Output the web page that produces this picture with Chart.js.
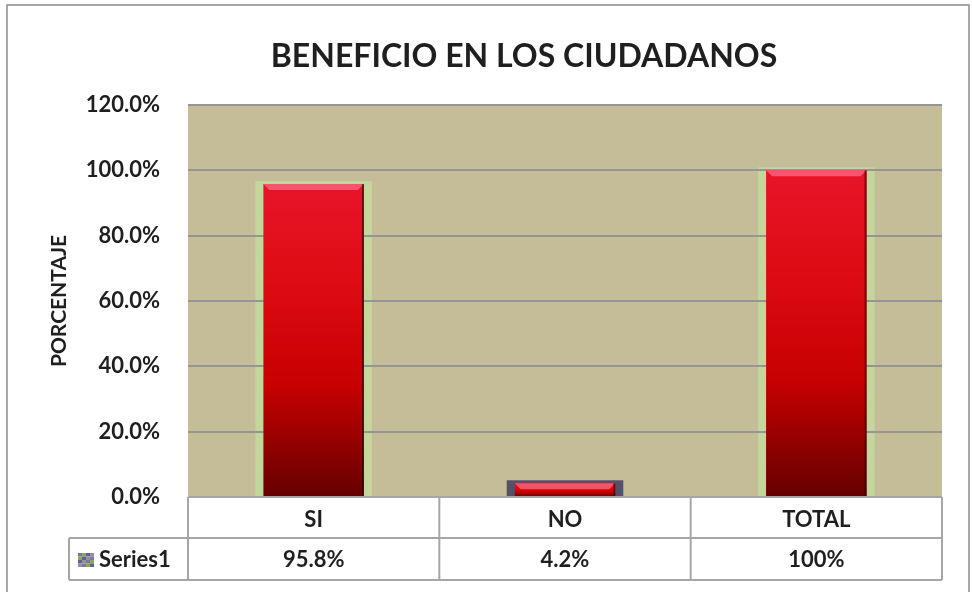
<!DOCTYPE html>
<html lang="es">
<head>
<meta charset="UTF-8">
<title>Beneficio en los ciudadanos</title>
<style>
  body { margin: 0; background: #fff; }
  #wrap { width: 972px; height: 592px; }
</style>
</head>
<body>
<div id="wrap"><canvas id="chart" width="972" height="592"></canvas></div>
<script src="https://cdn.jsdelivr.net/npm/chart.js@4"></script>
<script>
// datos
const categories = ['SI', 'NO', 'TOTAL'];
const values = [95.8, 4.2, 100];
const valueLabels = ['95.8%', '4.2%', '100%'];
const seriesName = 'Series1';
const yTicks = [0, 20, 40, 60, 80, 100, 120];
const chartTitle = 'BENEFICIO EN LOS CIUDADANOS';

const FONT = 'Lato, "Open Sans", sans-serif';
const TEXT = '#1f1f1f';
const LINE = '#a6a6a6';

// degradado rojo por barra (arriba brillante, abajo oscuro)
function barFill(c) {
    const chart = c.chart;
    if (!chart.chartArea || c.type !== 'data') return '#c00000';
    const y = chart.scales.y;
    const top = y.getPixelForValue(c.raw);
    const bot = y.getPixelForValue(0);
    const g = chart.ctx.createLinearGradient(0, top, 0, bot);
    g.addColorStop(0, '#e8142a');
    g.addColorStop(0.3, '#de0c14');
    g.addColorStop(0.65, '#c60000');
    g.addColorStop(1, '#650000');
    return g;
}

const frame = {
    id: 'frame',
    beforeDraw(chart) {
        const { ctx, chartArea: a } = chart;
        ctx.save();
        ctx.fillStyle = '#fff';
        ctx.fillRect(0, 0, chart.width, chart.height);
        ctx.fillStyle = '#c4bd97';
        ctx.fillRect(a.left, a.top, a.right - a.left, a.bottom - a.top);
        // halo verde alrededor de las barras
        chart.getDatasetMeta(0).data.forEach((bar, i) => {
            ctx.fillStyle = i === 1 ? '#55506a' : '#c3d69b';
            ctx.fillRect(bar.x - bar.width / 2 - 8, bar.y - 3, bar.width + 16, bar.base - bar.y + 3);
        });
        // borde exterior
        ctx.strokeStyle = '#8c8c8c';
        ctx.lineWidth = 1.5;
        ctx.strokeRect(7, 5, 962, 600);
        // titulo
        ctx.fillStyle = TEXT;
        ctx.font = 'bold 32px ' + FONT;
        ctx.textAlign = 'center';
        ctx.textBaseline = 'middle';
        ctx.fillText(chartTitle, 524, 57);
        ctx.restore();
    },
    afterDatasetsDraw(chart) {
        const ctx = chart.ctx;
        ctx.save();
        chart.getDatasetMeta(0).data.forEach(bar => {
            const l = bar.x - bar.width / 2, r = bar.x + bar.width / 2, t = bar.y;
            const b = Math.min(6, (bar.base - t) / 2);
            ctx.fillStyle = 'rgba(255,140,165,0.55)';
            ctx.beginPath();
            ctx.moveTo(l, t); ctx.lineTo(r, t); ctx.lineTo(r - b, t + b); ctx.lineTo(l + b, t + b);
            ctx.closePath();
            ctx.fill();
            ctx.fillStyle = 'rgba(40,0,0,0.6)';
            ctx.fillRect(r - 2, t, 2, bar.base - t);
        });
        ctx.restore();
    },
    afterDraw(chart) {
        const { ctx, chartArea: a } = chart;
        const xs = chart.scales.x;
        const half = (a.right - a.left) / categories.length / 2;
        const r1 = a.bottom + 41, r2 = a.bottom + 83, left0 = 69;
        ctx.save();
        ctx.strokeStyle = LINE;
        ctx.lineWidth = 2;
        ctx.beginPath();
        ctx.moveTo(a.left, a.bottom); ctx.lineTo(a.right, a.bottom);
        ctx.moveTo(left0, r1); ctx.lineTo(a.right, r1);
        ctx.moveTo(left0, r2); ctx.lineTo(a.right, r2);
        ctx.moveTo(left0, r1); ctx.lineTo(left0, r2);
        ctx.moveTo(a.left, a.bottom); ctx.lineTo(a.left, r2);
        categories.forEach((c, i) => {
            const x = xs.getPixelForValue(i) + half;
            ctx.moveTo(x, a.bottom); ctx.lineTo(x, r2);
        });
        ctx.stroke();

        ctx.fillStyle = TEXT;
        ctx.font = 'bold 22px ' + FONT;
        ctx.textBaseline = 'middle';
        ctx.textAlign = 'center';
        const ym = (r1 + r2) / 2 + 1;
        valueLabels.forEach((t, i) => ctx.fillText(t, xs.getPixelForValue(i), ym));
        // clave de la serie
        const kx = 78, ky = ym - 7;
        const cols = ['#6d7f9c', '#9aa05a', '#4f6a8a', '#a08aa0'];
        for (let i = 0; i < 4; i++) {
            for (let j = 0; j < 4; j++) {
                ctx.fillStyle = cols[(i + j) % 4];
                ctx.fillRect(kx + i * 4, ky + j * 3.5, 4, 3.5);
            }
        }
        ctx.fillStyle = TEXT;
        ctx.textAlign = 'left';
        ctx.fillText(seriesName, 99, ym);
        ctx.restore();
    }
};

new Chart(document.getElementById('chart'), {
    type: 'bar',
    data: {
        labels: categories,
        datasets: [{
            label: seriesName,
            data: values,
            backgroundColor: barFill,
            borderWidth: 0,
            barPercentage: 0.4,
            categoryPercentage: 1.0
        }]
    },
    options: {
        responsive: false,
        animation: false,
        devicePixelRatio: 1,
        layout: { padding: { left: 0, right: 30, top: 105, bottom: 0 } },
        plugins: {
            legend: { display: false },
            tooltip: { enabled: false },
            title: { display: false }
        },
        scales: {
            x: {
                grid: { display: false, drawTicks: false },
                border: { display: false },
                ticks: { color: TEXT, font: { family: FONT, size: 22, weight: 'bold' }, padding: 10 },
                afterFit(scale) { scale.height = 95; }
            },
            y: {
                min: 0,
                max: 120,
                afterBuildTicks(scale) { scale.ticks = yTicks.map(v => ({ value: v })); },
                grid: { color: '#959595', lineWidth: 2, drawTicks: false },
                border: { display: false },
                ticks: {
                    color: TEXT,
                    padding: 28,
                    font: { family: FONT, size: 22, weight: 'bold' },
                    callback: v => v.toFixed(1) + '%'
                },
                title: {
                    display: true,
                    text: 'PORCENTAJE',
                    color: TEXT,
                    font: { family: FONT, size: 21, weight: 'bold' },
                    padding: { top: 47, bottom: 0 }
                },
                afterFit(scale) { scale.width = 188; }
            }
        }
    },
    plugins: [frame]
});
</script>
</body>
</html>
